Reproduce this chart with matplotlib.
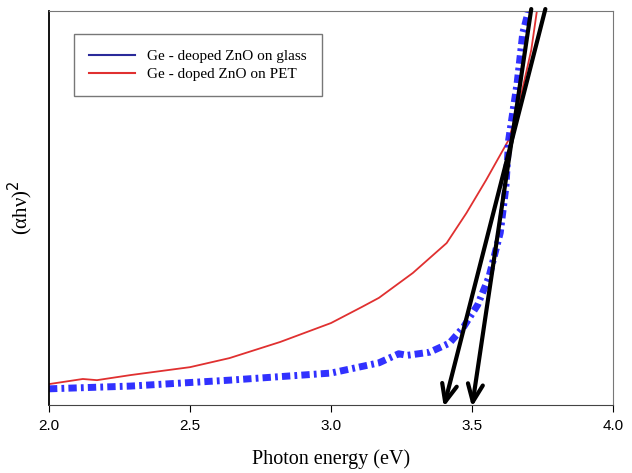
import matplotlib.pyplot as plt
from matplotlib.lines import Line2D

# red curve: Ge-doped ZnO on PET
pet_x = [2.00, 2.12, 2.17, 2.29, 2.50, 2.64, 2.82, 3.00, 3.11, 3.17, 3.29, 3.41, 3.48, 3.55, 3.63, 3.67, 3.71, 3.73]
pet_y = [5.3, 6.6, 6.3, 7.6, 9.6, 11.9, 16.0, 20.8, 24.9, 27.2, 33.5, 41.1, 48.7, 57.1, 67.3, 77.4, 90.1, 100.0]

# blue curve: Ge-doped ZnO on glass
glass_x = [2.00, 2.29, 2.64, 3.00, 3.17, 3.24, 3.27, 3.35, 3.42, 3.47, 3.52, 3.56, 3.60, 3.62, 3.63, 3.66, 3.68, 3.70]
glass_y = [4.1, 4.8, 6.3, 8.1, 10.7, 13.0, 12.6, 13.4, 15.7, 19.8, 25.4, 32.5, 43.7, 55.3, 67.3, 81.7, 94.4, 100.0]

# tangent arrows (start -> tip)
arrow_start_x = [3.76, 3.71]
arrow_tip_x = [3.40, 3.50]

fig = plt.figure(figsize=(6.32, 4.73), dpi=100)
ax = fig.add_axes([0.0775, 0.1438, 0.8925, 0.8329])

ax.plot(pet_x, pet_y, color='#e03030', lw=1.3)
ax.plot(glass_x, glass_y, color='#1a1aff', lw=5, alpha=0.9,
        linestyle=(0, (1.2, 0.6, 0.4, 0.6)))

for sx, tx in zip(arrow_start_x, arrow_tip_x):
    ax.annotate('', xy=(tx, -0.5), xytext=(sx, 100.5), annotation_clip=False,
                arrowprops=dict(arrowstyle='->, head_length=0.7, head_width=0.3',
                                color='black', lw=3,
                                mutation_scale=18, shrinkA=0, shrinkB=0))

ax.set_xlim(2.0, 4.0)
ax.set_ylim(0, 100)
ax.set_xticks([2.0, 2.5, 3.0, 3.5, 4.0])
ax.set_xticklabels(['2.0', '2.5', '3.0', '3.5', '4.0'], family='Liberation Sans', fontsize=11)
ax.set_yticks([])
ax.tick_params(axis='x', direction='out', length=5, pad=5)

for s in ['top', 'right']:
    ax.spines[s].set_color('#777777')
ax.spines['bottom'].set_color('#444444')
ax.spines['left'].set_color('black')
ax.spines['left'].set_linewidth(1.3)

ax.set_xlabel('Photon energy (eV)', family='Liberation Serif', fontsize=14.5, labelpad=12)
ax.set_ylabel(r'($\mathregular{\alpha}$h$\mathregular{\nu}$)$^2$', family='Liberation Serif',
              fontsize=15, labelpad=10)

handles = [Line2D([], [], color='#2a2a9a', lw=1.5),
           Line2D([], [], color='#e03030', lw=1.5)]
leg = ax.legend(handles, ['Ge - deoped ZnO on glass', 'Ge - doped ZnO on PET'],
                loc='upper left', bbox_to_anchor=(0.03, 0.96), fancybox=False,
                prop={'family': 'Liberation Serif', 'size': 11}, handlelength=3,
                borderpad=1.0, labelspacing=0.25)
leg.get_frame().set_edgecolor('#555555')
leg.get_frame().set_linewidth(1.0)

fig.savefig('out.png', dpi=100)
